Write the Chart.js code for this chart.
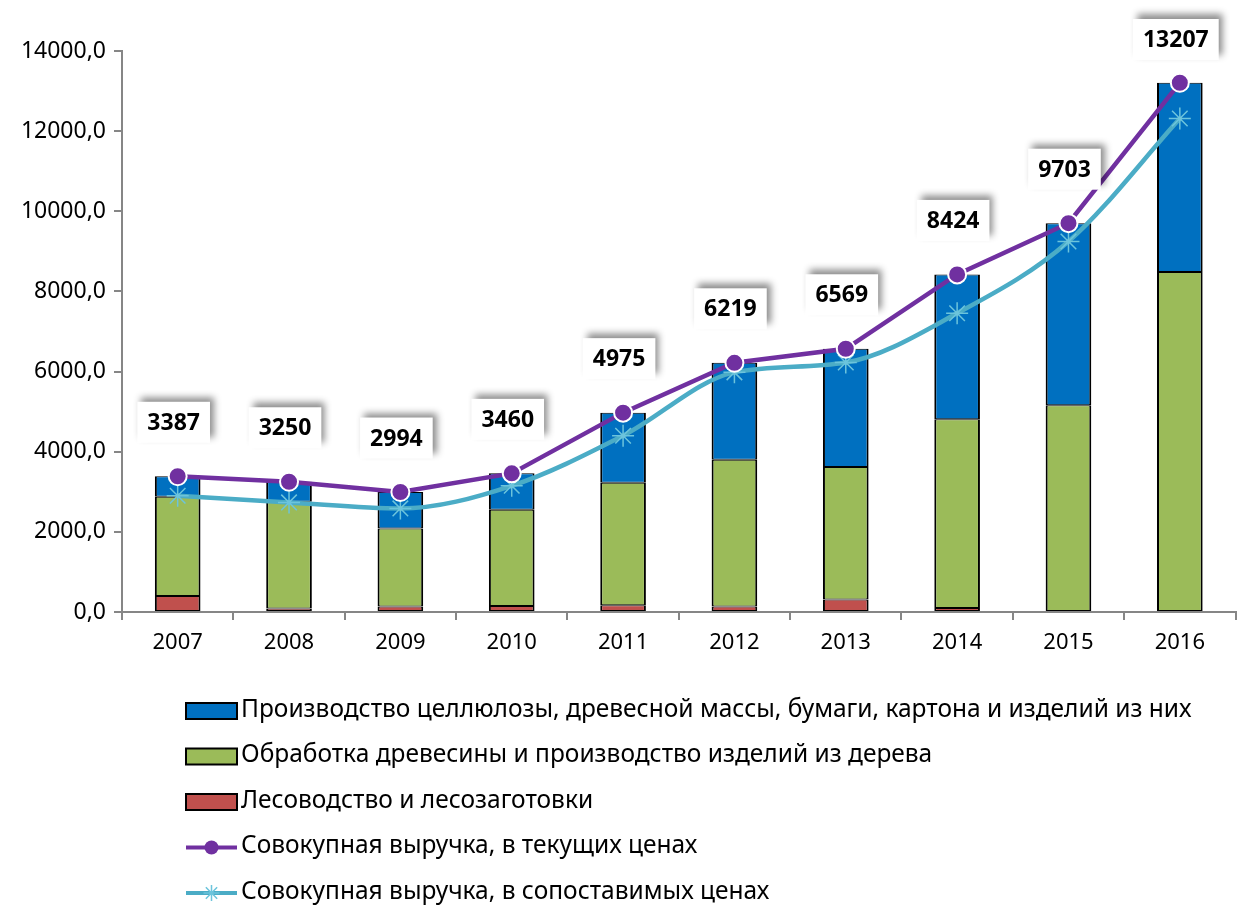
<!DOCTYPE html>
<html>
<head>
<meta charset="utf-8">
<script src="https://cdn.jsdelivr.net/npm/chart.js@4/dist/chart.umd.min.js"></script>
<style>
  html, body { margin: 0; padding: 0; background: #fff; overflow: hidden; }
  #wrap { width: 1248px; height: 907px; }
</style>
</head>
<body>
<div id="wrap"><canvas id="revChart" width="1248" height="907"></canvas></div>
<script>
const years = ['2007', '2008', '2009', '2010', '2011', '2012', '2013', '2014', '2015', '2016'];
const forestry = [400, 85, 135, 150, 170, 140, 310, 100, 0, 0];
const woodwork = [2475, 2665, 1950, 2400, 3055, 3660, 3310, 4710, 5160, 8485];
const pulpPaper = [512, 500, 909, 910, 1750, 2419, 2949, 3614, 4543, 4722];
const totalCurrent = [3387, 3250, 2994, 3460, 4975, 6219, 6569, 8424, 9703, 13207];
const totalComparable = [2900, 2735, 2585, 3150, 4400, 5980, 6225, 7455, 9245, 12315];
const yTicks = [0, 2000, 4000, 6000, 8000, 10000, 12000, 14000];

const legendNames = [
  'Производство целлюлозы, древесной массы, бумаги, картона и изделий из них',
  'Обработка древесины и производство изделий из дерева',
  'Лесоводство и лесозаготовки',
  'Совокупная выручка, в текущих ценах',
  'Совокупная выручка, в сопоставимых ценах',
];

const FONT = '"Noto Sans", "DejaVu Sans", sans-serif';
const AXIS = '#868686';
const BAR_BORDER = { top: 1, bottom: 1, left: 2, right: 2 };

// boxed totals above the purple line
const totalLabels = {
  id: 'totalLabels',
  afterDatasetsDraw(chart) {
    const ctx = chart.ctx;
    const meta = chart.getDatasetMeta(3);
    ctx.save();
    ctx.font = 'bold 23px ' + FONT;
    meta.data.forEach((pt, i) => {
      const txt = String(totalCurrent[i]);
      const w = ctx.measureText(txt).width + 20;
      const h = 41;
      const cx = pt.x - 4;
      let top = pt.y - 54 - h / 2;
      if (top < 19) top = 19;
      ctx.save();
      ctx.shadowColor = 'rgba(0,0,0,0.45)';
      ctx.shadowBlur = 7;
      ctx.shadowOffsetX = 4;
      ctx.shadowOffsetY = -5;
      ctx.fillStyle = '#fff';
      ctx.fillRect(cx - w / 2, top, w, h);
      ctx.restore();
      ctx.fillStyle = '#000';
      ctx.textAlign = 'center';
      ctx.textBaseline = 'middle';
      ctx.fillText(txt, cx, top + h / 2 + 1);
    });
    ctx.restore();
  }
};

// legend stacked in a column under the axis
const columnLegend = {
  id: 'columnLegend',
  afterDraw(chart) {
    const ctx = chart.ctx;
    const order = [2, 1, 0, 3, 4];
    const x0 = 186, x1 = 237, xm = (x0 + x1) / 2;
    ctx.save();
    ctx.font = '24.5px ' + FONT;
    ctx.textBaseline = 'middle';
    order.forEach((di, row) => {
      const ds = chart.data.datasets[di];
      const y = 711 + row * 45.5;
      if (ds.type === 'line') {
        ctx.strokeStyle = ds.borderColor;
        ctx.lineWidth = 4;
        ctx.beginPath();
        ctx.moveTo(x0, y);
        ctx.lineTo(x1, y);
        ctx.stroke();
        if (ds.pointStyle === 'circle') {
          ctx.fillStyle = ds.pointBackgroundColor;
          ctx.beginPath();
          ctx.arc(xm, y, 7, 0, Math.PI * 2);
          ctx.fill();
        } else {
          ctx.strokeStyle = ds.pointBorderColor;
          ctx.lineWidth = 1.5;
          Chart.helpers.drawPoint(ctx, { pointStyle: ds.pointStyle, radius: 8, borderWidth: 1.5, rotation: 0 }, xm, y);
        }
      } else {
        ctx.fillStyle = ds.backgroundColor;
        ctx.fillRect(x0, y - 8, x1 - x0, 16);
        ctx.strokeStyle = '#000';
        ctx.lineWidth = 2;
        ctx.strokeRect(x0, y - 8, x1 - x0, 16);
      }
      ctx.fillStyle = '#000';
      ctx.fillText(ds.label, x1 + 4, y - 1);
    });
    ctx.restore();
  }
};

const barBase = {
  type: 'bar',
  borderColor: '#000',
  borderWidth: BAR_BORDER,
  borderSkipped: false,
  stack: 'bars',
  order: 2,
  barPercentage: 0.82,
  categoryPercentage: 0.5,
};

new Chart(document.getElementById('revChart').getContext('2d'), {
  data: {
    labels: years,
    datasets: [
      Object.assign({}, barBase, { label: legendNames[2], data: forestry, backgroundColor: '#C0504D' }),
      Object.assign({}, barBase, { label: legendNames[1], data: woodwork, backgroundColor: '#9BBB59' }),
      Object.assign({}, barBase, { label: legendNames[0], data: pulpPaper, backgroundColor: '#0070C0' }),
      {
        type: 'line',
        label: legendNames[3],
        data: totalCurrent,
        borderColor: '#7030A0',
        borderWidth: 4.5,
        pointStyle: 'circle',
        pointRadius: 9,
        pointBackgroundColor: '#7030A0',
        pointBorderColor: '#fff',
        pointBorderWidth: 2,
        tension: 0,
        stack: 'current',
        order: 0,
      },
      {
        type: 'line',
        label: legendNames[4],
        data: totalComparable,
        borderColor: '#4BACC6',
        borderWidth: 4.5,
        pointStyle: 'star',
        pointRadius: 11,
        pointBackgroundColor: '#4BACC6',
        pointBorderColor: '#6CC4DC',
        pointBorderWidth: 1.5,
        cubicInterpolationMode: 'monotone',
        stack: 'comparable',
        order: 1,
      },
    ],
  },
  options: {
    responsive: false,
    animation: false,
    devicePixelRatio: 1,
    layout: { padding: { top: 51, left: 0, right: 0, bottom: 0 } },
    plugins: {
      legend: { display: false },
      tooltip: { enabled: false },
    },
    scales: {
      x: {
        stacked: true,
        offset: true,
        afterFit(scale) { scale.height = 295; },
        grid: { drawOnChartArea: false, offset: true, tickLength: 8, color: AXIS, lineWidth: 2 },
        border: { color: AXIS, width: 2 },
        ticks: { color: '#000', font: { family: FONT, size: 22 }, padding: 10 },
      },
      y: {
        stacked: true,
        min: 0,
        max: 14000,
        afterFit(scale) { scale.width = 122; },
        afterBuildTicks(scale) { scale.ticks = yTicks.map(v => ({ value: v })); },
        grid: { drawOnChartArea: false, tickLength: 8, color: AXIS, lineWidth: 2 },
        border: { color: AXIS, width: 2 },
        ticks: {
          color: '#000',
          font: { family: FONT, size: 23 },
          padding: 8,
          callback: v => v.toFixed(1).replace('.', ','),
        },
      },
    },
  },
  plugins: [totalLabels, columnLegend],
});
</script>
</body>
</html>
